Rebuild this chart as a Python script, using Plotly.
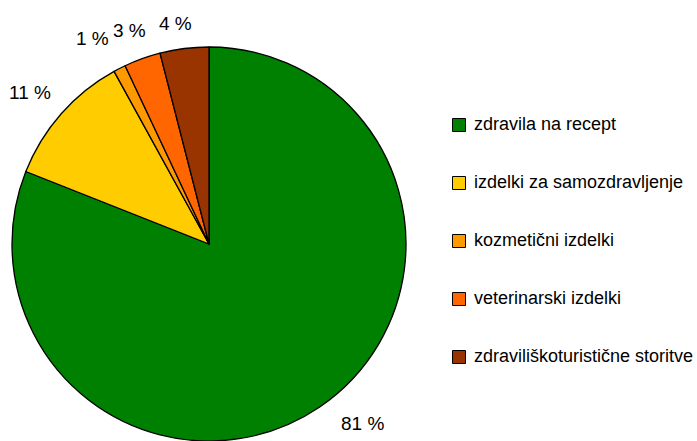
import numpy as np
import plotly.graph_objects as go

categories = ["zdravila na recept", "izdelki za samozdravljenje", "kozmetični izdelki",
              "veterinarski izdelki", "zdraviliškoturistične storitve"]
values = [81, 11, 1, 3, 4]
colors = ["#008000", "#FFCC00", "#FF9900", "#FF6600", "#993300"]

W, H = 697, 441
cx, cy, r = 209, 244, 197  # pie center and radius in pixels
FONT = "Liberation Sans, Arial"

fig = go.Figure()
fig.add_trace(go.Pie(
    labels=categories, values=values, sort=False, direction="clockwise", rotation=0,
    marker=dict(colors=colors, line=dict(color="black", width=1.3)),
    textinfo="none", hoverinfo="label+percent", showlegend=False,
    domain=dict(x=[(cx - r) / W, (cx + r) / W], y=[1 - (cy + r) / H, 1 - (cy - r) / H]),
))

annotations = []
shapes = []
# percentage labels, placed near each slice's mid-angle, outside the pie
total = sum(values)
cum = np.cumsum([0] + values[:-1])
label_dist = [1.20, 1.19, 1.20, 1.158, 1.134]
angle_nudge = [-6.3, -1.1, -2.4, -0.5, -1.3]  # degrees
for v, c0, d, nd in zip(values, cum, label_dist, angle_nudge):
    ang = 2 * np.pi * (c0 + v / 2) / total + np.radians(nd)
    px = cx + d * r * np.sin(ang)
    py = cy - d * r * np.cos(ang)
    annotations.append(dict(x=px / W, y=1 - py / H, xref="paper", yref="paper",
                            text=f"{v} %", showarrow=False, xanchor="center", yanchor="middle",
                            font=dict(family=FONT, size=19, color="black")))

# legend
leg_x, leg_y0, leg_dy, sq = 459, 125, 58, 13
for i, (cat, col) in enumerate(zip(categories, colors)):
    y = leg_y0 + i * leg_dy
    shapes.append(dict(type="rect", xref="paper", yref="paper",
                       x0=(leg_x - sq / 2) / W, x1=(leg_x + sq / 2) / W,
                       y0=1 - (y + sq / 2) / H, y1=1 - (y - sq / 2) / H,
                       fillcolor=col, line=dict(color="black", width=1)))
    annotations.append(dict(x=472 / W, y=1 - (y - 1) / H, xref="paper", yref="paper",
                            text=cat, showarrow=False, xanchor="left", yanchor="middle",
                            font=dict(family=FONT, size=18, color="black")))

fig.update_layout(width=W, height=H, margin=dict(l=0, r=0, t=0, b=0),
                  paper_bgcolor="white", plot_bgcolor="white",
                  annotations=annotations, shapes=shapes, showlegend=False)
fig.write_html("out.html", config={"displayModeBar": False},
               post_script="document.body.style.margin='0';")
